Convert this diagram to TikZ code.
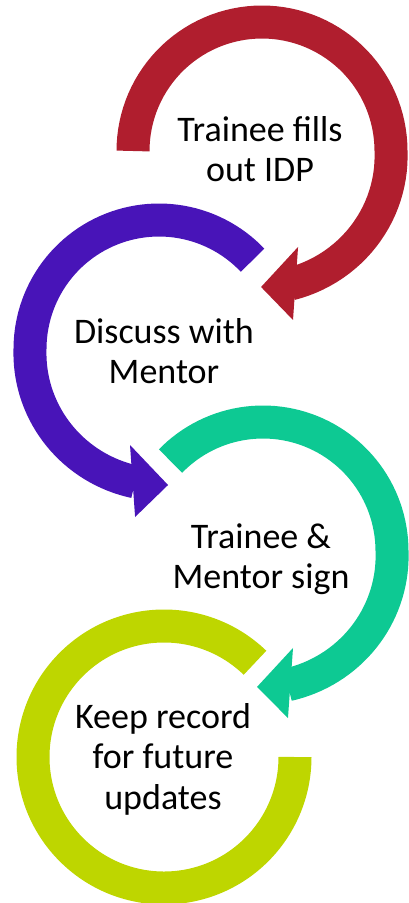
\documentclass[tikz,border=0pt]{standalone}
\usepackage{fontspec}
\setmainfont{Carlito}
\definecolor{idpred}{RGB}{176,30,46}
\definecolor{idpblue}{RGB}{72,20,184}
\definecolor{idpgreen}{RGB}{13,201,147}
\definecolor{idpyellow}{RGB}{190,214,0}
\tikzset{every picture/.style={line width=0.75pt}}
\tikzset{
  ringband/.style={line width=33pt,samples=90},
  steptext/.style={align=center,font=\fontsize{36}{40.5}\selectfont},
}

\begin{document}
\begin{tikzpicture}[x=1pt,y=1pt]
  \useasboundingbox (0,0) rectangle (408,-903);
  \coordinate (c1) at (262,-151); % red ring
  \coordinate (c2) at (159,-349); % blue ring
  \coordinate (c3) at (263,-551); % green ring
  \coordinate (c4) at (164,-757); % yellow ring
  \begin{scope}[shift={(c1)}]
    \draw[ringband,idpred,domain=180:-78] plot({(129+7*max(0,-(\x))/78)*cos(\x)},{(129+7*max(0,-(\x))/78)*sin(\x)});
    \fill[idpred] (-69.4:102.5)--(-90.4:136)--(-79.6:171.8)--cycle; % head
  \end{scope}
  \begin{scope}[shift={(c2)}]
    \draw[ringband,idpblue,domain=43.5:259.8] plot({(129+6*max(0,(\x)-180)/79.8)*cos(\x)},{(129+6*max(0,(\x)-180)/79.8)*sin(\x)});
    \fill[idpblue] (253.2:100.3)--(273.8:136.3)--(261.9:169.7)--cycle; % head
  \end{scope}
  \begin{scope}[shift={(c3)}]
    \draw[ringband,idpgreen,domain=135.8:-79.5] plot({(129+7*max(0,-(\x))/79.5)*cos(\x)},{(129+7*max(0,-(\x))/79.5)*sin(\x)});
    \fill[idpgreen] (-72.8:101.5)--(-92.5:136)--(-81.5:168.9)--cycle; % head
  \end{scope}
  \draw[ringband,idpyellow] (c4) ++(46:131) arc[start angle=46,end angle=360,radius=131]; % no head
  \node[steptext] (s1) at (260,-149) {Trainee fills\\out IDP};
  \node[steptext] (s2) at (164,-351) {Discuss with\\Mentor};
  \node[steptext] (s3) at (261,-559) {Trainee \&\\Mentor sign};
  \node[steptext] (s4) at (163,-759) {Keep record\\for future\\updates};
\end{tikzpicture}
\end{document}
